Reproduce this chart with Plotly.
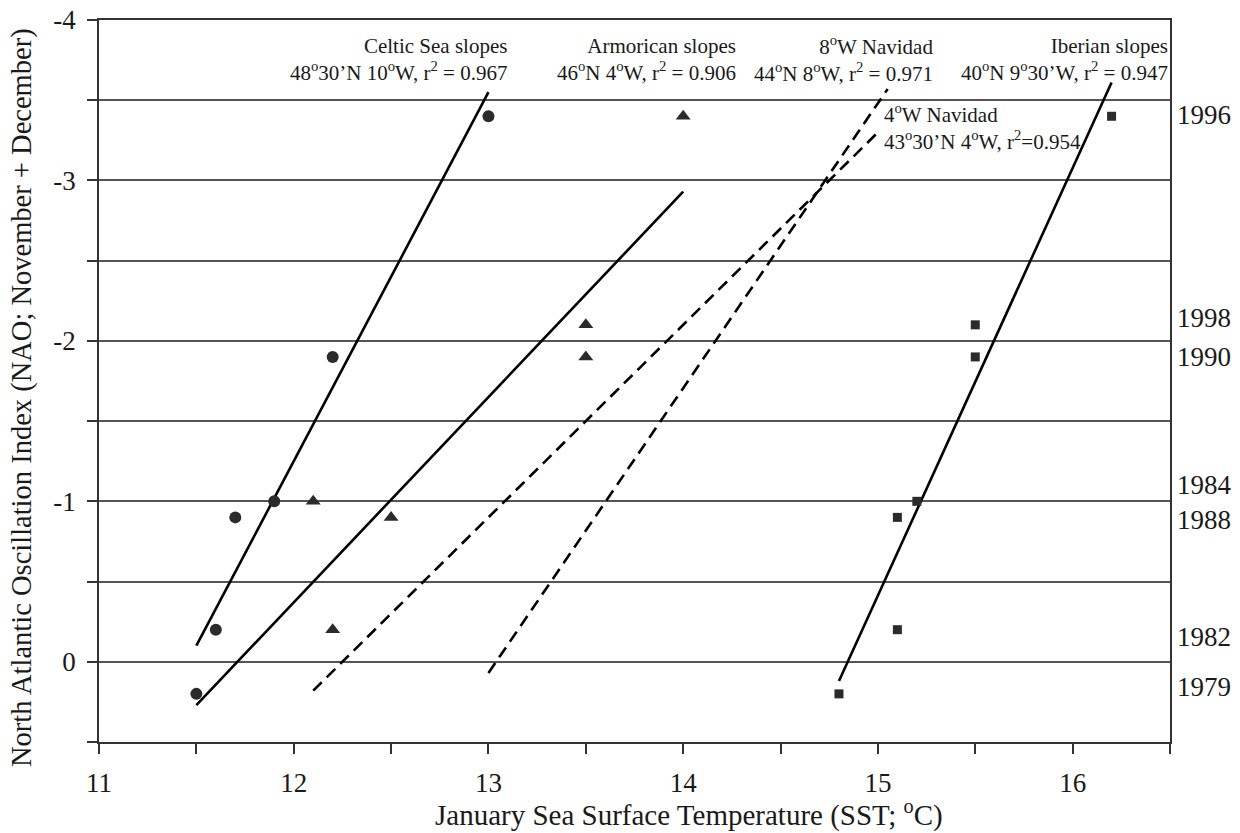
import plotly.graph_objects as go

# ---- data ----
celtic_x = [11.5, 11.6, 11.7, 11.9, 12.2, 13.0]
celtic_y = [0.2, -0.2, -0.9, -1.0, -1.9, -3.4]
armor_x = [12.1, 12.2, 12.5, 13.5, 13.5, 14.0]
armor_y = [-1.0, -0.2, -0.9, -2.1, -1.9, -3.4]
iber_x = [14.8, 15.1, 15.1, 15.2, 15.5, 15.5, 16.2]
iber_y = [0.2, -0.2, -0.9, -1.0, -2.1, -1.9, -3.4]

celtic_fit_x = [11.5, 13.0]
celtic_fit_y = [-0.1, -3.55]
armor_fit_x = [11.5, 14.0]
armor_fit_y = [0.27, -2.93]
nav4_fit_x = [12.1, 15.0]
nav4_fit_y = [0.18, -3.3]
nav8_fit_x = [13.0, 15.05]
nav8_fit_y = [0.07, -3.57]
iber_fit_x = [14.8, 16.2]
iber_fit_y = [0.12, -3.61]

year_labels = ["1996", "1998", "1990", "1984", "1988", "1982", "1979"]
year_pos = [-3.41, -2.14, -1.90, -1.10, -0.885, -0.156, 0.16]

x_tickvals = [11, 11.5, 12, 12.5, 13, 13.5, 14, 14.5, 15, 15.5, 16, 16.5]
x_ticktext = ["11", "", "12", "", "13", "", "14", "", "15", "", "16", ""]
y_tickvals = [-4, -3.5, -3, -2.5, -2, -1.5, -1, -0.5, 0, 0.5]
y_ticktext = ["-4", "", "-3", "", "-2", "", "-1", "", "0", ""]

SERIF = "Liberation Serif, Times New Roman, serif"
MARK = "#2b2b2b"
TXT = "#1a1a1a"

W, H = 1240, 833
L, R, T, B = 99, 70, 20, 91
pw = W - L - R
ph = H - T - B

fig = go.Figure()

line_style = dict(color="black", width=2.6)
dash_style = dict(color="black", width=2.6, dash="12px,7px")
fig.add_trace(go.Scatter(x=celtic_fit_x, y=celtic_fit_y, mode="lines", line=line_style, showlegend=False))
fig.add_trace(go.Scatter(x=armor_fit_x, y=armor_fit_y, mode="lines", line=line_style, showlegend=False))
fig.add_trace(go.Scatter(x=nav4_fit_x, y=nav4_fit_y, mode="lines", line=dash_style, showlegend=False))
fig.add_trace(go.Scatter(x=nav8_fit_x, y=nav8_fit_y, mode="lines", line=dash_style, showlegend=False))
fig.add_trace(go.Scatter(x=iber_fit_x, y=iber_fit_y, mode="lines", line=line_style, showlegend=False))

fig.add_trace(go.Scatter(x=celtic_x, y=celtic_y, mode="markers",
                         marker=dict(symbol="circle", size=12, color=MARK), showlegend=False))
fig.add_trace(go.Scatter(x=armor_x, y=armor_y, mode="markers",
                         marker=dict(symbol="triangle-up", size=13, color=MARK), showlegend=False))
fig.add_trace(go.Scatter(x=iber_x, y=iber_y, mode="markers",
                         marker=dict(symbol="square", size=9, color=MARK), showlegend=False))

labels = [
    ("Celtic Sea slopes<br>48<sup>o</sup>30’N 10<sup>o</sup>W, r<sup>2</sup> = 0.967", 509),
    ("Armorican slopes<br>46<sup>o</sup>N 4<sup>o</sup>W, r<sup>2</sup> = 0.906", 738),
    ("8<sup>o</sup>W Navidad<br>44<sup>o</sup>N 8<sup>o</sup>W, r<sup>2</sup> = 0.971", 935),
    ("Iberian slopes<br>40<sup>o</sup>N 9<sup>o</sup>30’W, r<sup>2</sup> = 0.947", 1170),
]
for txt, xr in labels:
    fig.add_annotation(text=txt, xref="paper", yref="paper",
                       x=(xr - L) / pw, y=1 - (59 - T) / ph,
                       xanchor="right", yanchor="middle", align="right", showarrow=False,
                       font=dict(family=SERIF, size=21, color=TXT))
fig.add_annotation(text="4<sup>o</sup>W Navidad<br>43<sup>o</sup>30’N 4<sup>o</sup>W, r<sup>2</sup>=0.954",
                   xref="paper", yref="paper", x=(882 - L) / pw, y=1 - (127 - T) / ph,
                   xanchor="left", yanchor="middle", align="left", showarrow=False,
                   font=dict(family=SERIF, size=21, color=TXT))

for lab, yp in zip(year_labels, year_pos):
    fig.add_annotation(text=lab, xref="paper", yref="y", x=1, y=yp, xshift=5,
                       xanchor="left", yanchor="middle", showarrow=False,
                       font=dict(family=SERIF, size=27, color=TXT))

# axis titles
fig.add_annotation(text="January Sea Surface Temperature (SST; <sup>o</sup>C)",
                   xref="paper", yref="paper", x=(433 - L) / pw, y=-(813 - (T + ph)) / ph,
                   xanchor="left", yanchor="middle", showarrow=False,
                   font=dict(family=SERIF, size=29, color=TXT))
fig.add_annotation(text="North Atlantic Oscillation Index (NAO; November + December)",
                   xref="paper", yref="paper", x=-(L - 22) / pw, y=1 - (398 - T) / ph, textangle=-90,
                   xanchor="center", yanchor="middle", showarrow=False,
                   font=dict(family=SERIF, size=28.5, color=TXT))

fig.update_layout(
    width=W, height=H,
    margin=dict(l=L, r=R, t=T, b=B, autoexpand=False),
    plot_bgcolor="white", paper_bgcolor="white",
    font=dict(family=SERIF, size=27, color=TXT),
    xaxis=dict(range=[11, 16.5], tickvals=x_tickvals, ticktext=x_ticktext,
               ticks="outside", ticklen=10, tickwidth=1.5, tickcolor="#333",
               showgrid=False, zeroline=False, showline=True, linecolor="#333", linewidth=1.5,
               mirror=True, automargin=False, tickfont=dict(family=SERIF, size=27),
               ticklabelstandoff=6),
    yaxis=dict(range=[0.5, -4], tickvals=y_tickvals, ticktext=y_ticktext,
               ticks="outside", ticklen=10, tickwidth=1.5, tickcolor="#333",
               showgrid=True, gridcolor="#555", gridwidth=1.5, zeroline=False,
               showline=True, linecolor="#333", linewidth=1.5, mirror=True, automargin=False,
               tickfont=dict(family=SERIF, size=27), ticklabelstandoff=6),
)

fig.write_html("out.html", config={"displayModeBar": False},
               post_script="document.body.style.margin='0';document.body.style.overflow='hidden';")
